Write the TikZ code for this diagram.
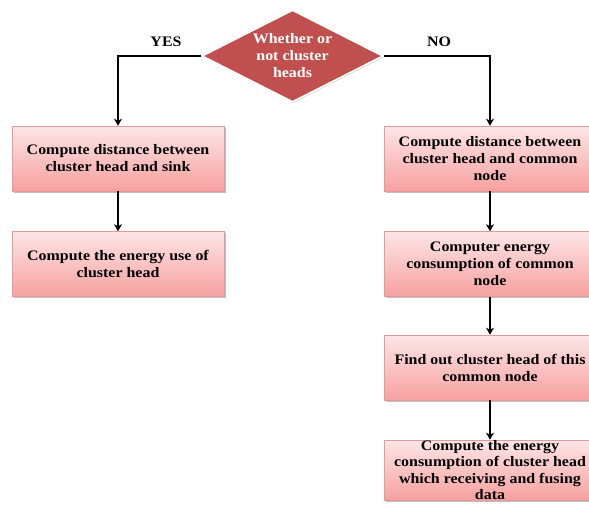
\documentclass[tikz,border=0pt]{standalone}
\usepackage{fontspec}
\setmainfont[FakeStretch=1.1]{Liberation Serif}
\usetikzlibrary{shapes.geometric,arrows.meta,shadows}
\definecolor{diafill}{HTML}{C0504D}
\definecolor{boxtop}{HTML}{FDE6E6}
\definecolor{boxbot}{HTML}{F7A0A0}
\definecolor{boxline}{HTML}{E49A9A}
\tikzset{
  stepbox/.style={rectangle, draw=boxline, line width=0.6pt, top color=boxtop, bottom color=boxbot,
    minimum width=212pt, minimum height=65pt, inner sep=0pt, align=center,
    font=\fontsize{14.5}{17}\selectfont\bfseries,
    drop shadow={shadow xshift=1.5pt, shadow yshift=-1.5pt, fill=black, opacity=0.25}},
  decision/.style={diamond, aspect=2, fill=diafill, draw=white, line width=1.5pt, inner sep=0pt,
    minimum width=181pt, minimum height=92pt, align=center, text=white,
    font=\fontsize{14.5}{17}\selectfont\bfseries,
    drop shadow={shadow xshift=1pt, shadow yshift=-1pt, fill=black, opacity=0.2}},
  flow/.style={draw=black, line width=1.8pt, -{Stealth[length=7pt,width=8pt,inset=2pt]}},
  lbl/.style={font=\fontsize{14.5}{17}\selectfont\bfseries}
}
\begin{document}
\begin{tikzpicture}[x=1pt,y=-1pt]
\useasboundingbox[fill=white] (0,0) rectangle (589,504);
\node[decision] (dia) at (292.5,56) {Whether or\\not cluster\\heads};
\node[stepbox] (l1) at (118,158.5) {Compute distance between\\cluster head and sink};
\node[stepbox] (l2) at (118,264) {Compute the energy use of\\cluster head};
\node[stepbox] (r1) at (490,158.5) {Compute distance between\\cluster head and common\\node};
\node[stepbox] (r2) at (490,264) {Computer energy\\consumption of common\\node};
\node[stepbox] (r3) at (490,367.5) {Find out cluster head of this\\common node};
\node[stepbox, minimum height=60pt, font=\fontsize{14.5}{16.5}\selectfont\bfseries] (r4) at (490,470) {Compute the energy\\consumption of cluster head\\which receiving and fusing\\data};
\node[lbl] (yes) at (166,42) {YES};
\node[lbl] (no) at (439,42) {NO};
\draw[flow] (dia.west) -| (l1.north);
\draw[flow] (dia.east) -| (r1.north);
\draw[flow] (l1.south) -- (l2.north);
\draw[flow] (r1.south) -- (r2.north);
\draw[flow] (r2.south) -- (r3.north);
\draw[flow] (r3.south) -- (r4.north);
\end{tikzpicture}
\end{document}
